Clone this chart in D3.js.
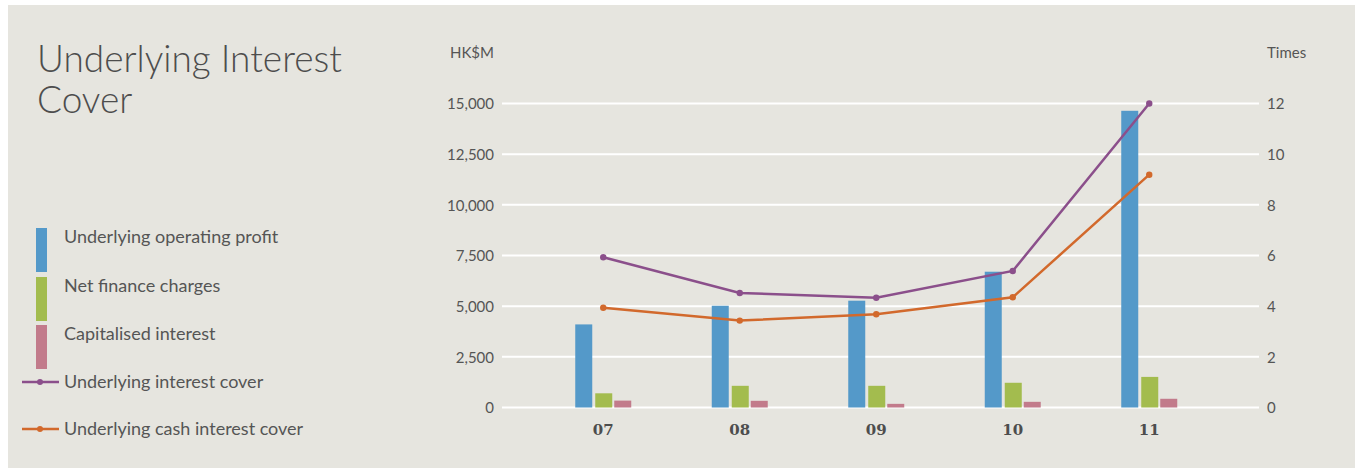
<!DOCTYPE html>
<html>
<head>
<meta charset="utf-8">
<script src="https://cdn.jsdelivr.net/npm/d3@7"></script>
<style>
  body { margin: 0; background: #fff; }
  text { font-family: Lato, "Open Sans", sans-serif; fill: #555; }
</style>
</head>
<body>
<div id="chart"></div>
<script>
// data
var years = ["07", "08", "09", "10", "11"];
var operatingProfit = [4100, 5020, 5270, 6700, 14640];
var netFinance = [700, 1070, 1070, 1220, 1510];
var capitalised = [340, 330, 180, 280, 430];
var interestCover = [5.93, 4.52, 4.33, 5.39, 12.0];
var cashCover = [3.94, 3.43, 3.68, 4.35, 9.19];
var leftTicks = [0, 2500, 5000, 7500, 10000, 12500, 15000];
var rightTicks = [0, 2, 4, 6, 8, 10, 12];

var barSeries = [
  {name: "Underlying operating profit", values: operatingProfit, color: "#5499c9"},
  {name: "Net finance charges", values: netFinance, color: "#a3bc4e"},
  {name: "Capitalised interest", values: capitalised, color: "#c27b8b"}
];
var lineSeries = [
  {name: "Underlying interest cover", values: interestCover, color: "#8b4f8b"},
  {name: "Underlying cash interest cover", values: cashCover, color: "#d2692c"}
];

var W = 1355, H = 468;
var svg = d3.select("#chart").append("svg")
    .attr("width", W).attr("height", H);

svg.append("rect")
    .attr("x", 8).attr("y", 5)
    .attr("width", W - 8).attr("height", H - 5)
    .attr("fill", "#e6e5df");

// title
var title = svg.append("text")
    .attr("x", 37).attr("y", 72)
    .style("font-size", "37px")
    .style("font-weight", 300)
    .style("fill", "#4d4d4d");
title.append("tspan").attr("x", 37).text("Underlying Interest");
title.append("tspan").attr("x", 37).attr("dy", 41).text("Cover");

// scales
var x = d3.scaleBand().domain(years).range([535, 1217.5]);
var yL = d3.scaleLinear().domain([0, 15000]).range([407.5, 103.5]);
var yR = d3.scaleLinear().domain([0, 12]).range([407.5, 103.5]);
var gridX0 = 502, gridX1 = 1259;

// gridlines
svg.append("g").selectAll("line")
    .data(leftTicks)
    .enter().append("line")
    .attr("x1", gridX0).attr("x2", gridX1)
    .attr("y1", d => yL(d)).attr("y2", d => yL(d))
    .attr("stroke", "#fff").attr("stroke-width", 2);

// left axis
var axL = svg.append("g")
    .attr("transform", "translate(" + (gridX0 - 8) + ",0)")
    .call(d3.axisLeft(yL).tickValues(leftTicks).tickSize(0).tickPadding(0).tickFormat(d3.format(",")));
axL.select(".domain").remove();
axL.selectAll("text").style("font-size", "15px").attr("dy", "0.35em");

// right axis
var axR = svg.append("g")
    .attr("transform", "translate(" + (gridX1 + 8) + ",0)")
    .call(d3.axisRight(yR).tickValues(rightTicks).tickSize(0).tickPadding(0));
axR.select(".domain").remove();
axR.selectAll("text").style("font-size", "15px").attr("dy", "0.35em");

svg.append("text").attr("x", 494).attr("y", 58)
    .attr("text-anchor", "end").style("font-size", "15px").text("HK$M");
svg.append("text").attr("x", 1267).attr("y", 58)
    .style("font-size", "15px").text("Times");

// bars
var barW = 17, offsets = [-28, -8, 11];
barSeries.forEach(function(s, k) {
  svg.append("g").selectAll("rect")
      .data(s.values)
      .enter().append("rect")
      .attr("x", (d, i) => x(years[i]) + x.bandwidth() / 2 + offsets[k])
      .attr("y", d => yL(d))
      .attr("width", barW)
      .attr("height", d => yL(0) - yL(d))
      .attr("fill", s.color);
});

// lines
lineSeries.forEach(function(s) {
  var line = d3.line()
      .x((d, i) => x(years[i]) + x.bandwidth() / 2)
      .y(d => yR(d));
  svg.append("path")
      .datum(s.values)
      .attr("d", line)
      .attr("fill", "none")
      .attr("stroke", s.color)
      .attr("stroke-width", 2.5);
  svg.append("g").selectAll("circle")
      .data(s.values)
      .enter().append("circle")
      .attr("cx", (d, i) => x(years[i]) + x.bandwidth() / 2)
      .attr("cy", d => yR(d))
      .attr("r", 3.2)
      .attr("fill", s.color);
});

// category labels
svg.append("g").selectAll("text")
    .data(years)
    .enter().append("text")
    .attr("x", d => x(d) + x.bandwidth() / 2)
    .attr("y", 435)
    .attr("text-anchor", "middle")
    .style("font-family", "'DejaVu Serif', serif")
    .style("font-weight", "bold")
    .style("font-size", "15px")
    .style("fill", "#4d4d4d")
    .text(d => d);

// legend
var legTop = [228, 277, 325];
barSeries.forEach(function(s, k) {
  svg.append("rect")
      .attr("x", 36).attr("y", legTop[k])
      .attr("width", 11).attr("height", 44)
      .attr("fill", s.color);
  svg.append("text")
      .attr("x", 64).attr("y", legTop[k] + 15)
      .style("font-size", "18px")
      .text(s.name);
});
var legLineY = [382, 429];
lineSeries.forEach(function(s, k) {
  svg.append("line")
      .attr("x1", 22).attr("x2", 59)
      .attr("y1", legLineY[k]).attr("y2", legLineY[k])
      .attr("stroke", s.color).attr("stroke-width", 2.5);
  svg.append("circle")
      .attr("cx", 40).attr("cy", legLineY[k]).attr("r", 3)
      .attr("fill", s.color);
  svg.append("text")
      .attr("x", 64).attr("y", legLineY[k] + 6)
      .style("font-size", "18px")
      .text(s.name);
});
</script>
</body>
</html>
